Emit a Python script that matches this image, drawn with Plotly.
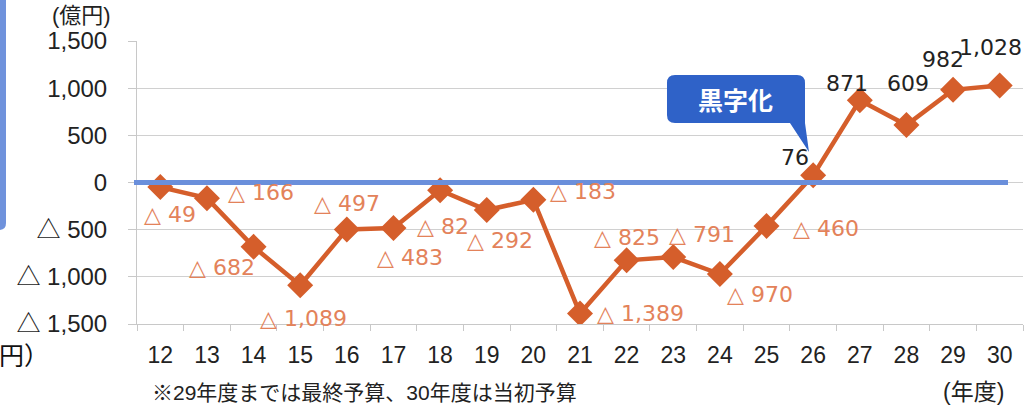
import plotly.graph_objects as go

years = ["12","13","14","15","16","17","18","19","20","21","22","23","24","25","26","27","28","29","30"]
values = [-49,-166,-682,-1089,-497,-483,-82,-292,-183,-1389,-825,-791,-970,-460,76,871,609,982,1028]
label_dx = [10,54,-32,3,0,17,3,13,50,60,0,29,40,59,-18,-13,2,-10,-9]
label_dy = [27,-6,21,33,-26,29,36,30,-8,0,-23,-23,20,3,-18,-17,-42,-30,-38]
y_tickvals = [1500,1000,500,0,-500,-1000,-1500]
y_ticktext = ["1,500","1,000","500","0","△ 500","△ 1,000","△ 1,500"]

FONT = "Liberation Sans, Arial, Noto Sans CJK JP"
LABEL_FONT = "DejaVu Sans, Liberation Sans"
ORANGE = "#D55E2B"
LABEL_ORANGE = "#E3825A"

W, H = 1028, 408
L, R, T, B = 137, 1023, 41, 324

def px(x):
    return (x - L) / (R - L)

def py(y):
    return (B - y) / (B - T)

fig = go.Figure()
fig.add_trace(go.Scatter(
    x=years, y=values, mode="lines+markers",
    line=dict(color=ORANGE, width=4.5),
    marker=dict(symbol="diamond", size=20, color=ORANGE),
    hoverinfo="skip", showlegend=False,
))

annotations = []
for i, (v, dx, dy) in enumerate(zip(values, label_dx, label_dy)):
    txt = f"{v:,}" if v >= 0 else f"△ {abs(v):,}"
    annotations.append(dict(
        x=i, y=v, xref="x", yref="y", text=txt, showarrow=False,
        xshift=dx, yshift=-dy,
        font=dict(size=22, color="#222222" if v >= 0 else LABEL_ORANGE, family=LABEL_FONT),
    ))

annotations += [
    dict(x=px(113), y=py(15), xref="paper", yref="paper", text="(億円)", showarrow=False,
         xanchor="right", yanchor="middle", font=dict(size=22, color="#222222", family=FONT)),
    dict(x=px(1006), y=py(392), xref="paper", yref="paper", text="(年度)", showarrow=False,
         xanchor="right", yanchor="middle", font=dict(size=23, color="#222222", family=FONT)),
    dict(x=px(150), y=py(392), xref="paper", yref="paper", text="※29年度までは最終予算、30年度は当初予算",
         showarrow=False, xanchor="left", yanchor="middle",
         font=dict(size=21, color="#222222", family=FONT)),
    dict(x=px(-3), y=py(354), xref="paper", yref="paper", text="円）", showarrow=False,
         xanchor="left", yanchor="middle", font=dict(size=25, color="#111111", family="Noto Sans CJK JP")),
    dict(x=px(735), y=py(99), xref="paper", yref="paper", text="<b>黒字化</b>", showarrow=False,
         xanchor="center", yanchor="middle", font=dict(size=25, color="white", family="Noto Sans CJK JP")),
]

def P(x, y):
    return f"{px(x):.5f},{py(y):.5f}"

x0, x1, y0, y1, r = 667, 805, 75, 123, 8
callout = ("M " + P(x0 + r, y0) + " L " + P(x1 - r, y0) + " Q " + P(x1, y0) + " " + P(x1, y0 + r) +
           " L " + P(x1, y1) + " L " + P(809, 152) + " L " + P(790, y1) +
           " L " + P(x0 + r, y1) + " Q " + P(x0, y1) + " " + P(x0, y1 - r) +
           " L " + P(x0, y0 + r) + " Q " + P(x0, y0) + " " + P(x0 + r, y0) + " Z")

bx0, bx1, by1, br = -5, 6, 230, 7
border = ("M " + P(bx0, -5) + " L " + P(bx1, -5) + " L " + P(bx1, by1 - br) + " Q " + P(bx1, by1) +
          " " + P(bx1 - br, by1) + " L " + P(bx0, by1) + " Z")

shapes = [
    dict(type="line", xref="paper", yref="y", x0=px(134), x1=px(1008), y0=0, y1=0,
         line=dict(color="#6A8FDB", width=5), layer="above"),
    dict(type="path", xref="paper", yref="paper", path=callout,
         fillcolor="#2F62C8", line=dict(width=0), layer="above"),
    dict(type="path", xref="paper", yref="paper", path=border,
         fillcolor="#6F92DC", line=dict(width=0), layer="above"),
]

fig.update_layout(
    width=W, height=H,
    margin=dict(l=L, r=W - R, t=T, b=H - B),
    paper_bgcolor="white", plot_bgcolor="white",
    font=dict(family=FONT, color="#222222"),
    annotations=annotations, shapes=shapes,
    xaxis=dict(type="category", categoryorder="array", categoryarray=years,
               range=[-0.5, 18.5], tickson="boundaries", ticks="outside", ticklen=6,
               tickcolor="#C8C8C8", showline=True, linecolor="#C8C8C8", linewidth=1,
               showgrid=False, tickfont=dict(size=23, color="#222222"), ticklabelstandoff=10,
               fixedrange=True),
    yaxis=dict(range=[-1500, 1500], tickvals=y_tickvals, ticktext=y_ticktext,
               ticks="outside", ticklen=8, tickcolor="#C8C8C8", showline=True,
               linecolor="#C8C8C8", linewidth=1, showgrid=True, gridcolor="#D0D0D0",
               gridwidth=1, zeroline=False, tickfont=dict(size=24, color="#222222"),
               ticklabelstandoff=16, fixedrange=True),
)

fig.write_html("out.html")
